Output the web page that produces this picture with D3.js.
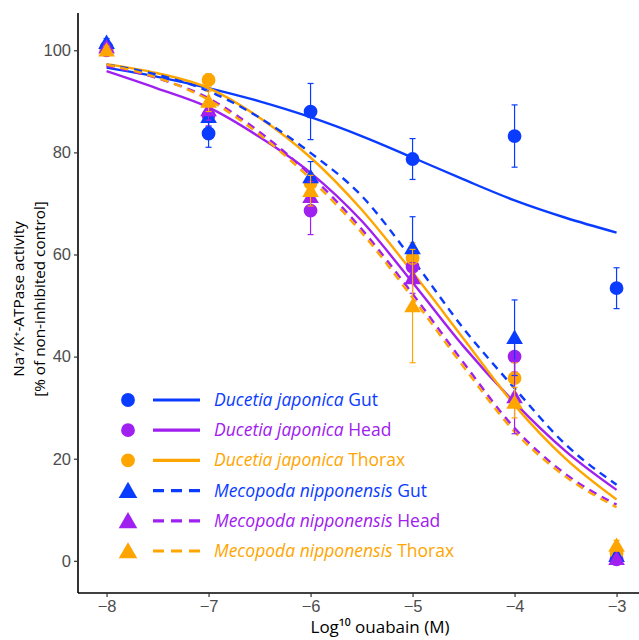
<!DOCTYPE html>
<html>
<head>
<meta charset="utf-8">
<script src="https://cdn.jsdelivr.net/npm/d3@7"></script>
<style>
  body { margin: 0; background: #fff; }
  svg { display: block; }
</style>
</head>
<body>
<script>
// concentrations (log10 M)
var doses = [-8, -7, -6, -5, -4, -3];
// x positions for the fitted curves
var curveX = [-8, -7.5, -7, -6.5, -6, -5.5, -5, -4.5, -4, -3.5, -3];

// series names
var species = ["Ducetia japonica", "Ducetia japonica", "Ducetia japonica",
               "Mecopoda nipponensis", "Mecopoda nipponensis", "Mecopoda nipponensis"];
var tissues = ["Gut", "Head", "Thorax", "Gut", "Head", "Thorax"];

// measured means (% of control)
var djGut     = [100.5, 83.7, 88.0, 78.7, 83.2, 53.4];
var djHead    = [100.0, 87.2, 68.6, 57.6, 40.0, 0.3];
var djThorax  = [100.2, 94.2, 74.0, 59.3, 35.8, 1.5];
var mnGut     = [101.5, 87.0, 75.2, 61.3, 43.7, 1.0];
var mnHead    = [100.6, 88.3, 71.3, 55.4, 32.1, 0.4];
var mnThorax  = [100.0, 90.0, 72.5, 49.9, 31.0, 3.0];

// error (half bar length)
var djGutErr    = [0.8, 2.7, 5.5, 4.0, 6.1, 4.0];
var djHeadErr   = [0.8, 2.0, 4.7, 3.0, 3.0, 0.5];
var djThoraxErr = [0.8, 1.2, 2.0, 3.0, 3.0, 0.5];
var mnGutErr    = [0.8, 2.0, 3.0, 6.1, 7.4, 0.5];
var mnHeadErr   = [0.8, 2.0, 3.0, 3.0, 7.2, 0.5];
var mnThoraxErr = [0.8, 2.0, 3.0, 11.1, 3.0, 1.0];

// fitted curves at curveX
var djGutFit    = [96.6, 94.8, 92.6, 90.0, 86.9, 83.2, 79.0, 74.7, 70.6, 67.2, 64.3];
var djHeadFit   = [95.9, 92.5, 88.8, 83.0, 76.0, 66.6, 54.5, 42.0, 31.0, 21.5, 13.9];
var djThoraxFit = [97.3, 95.5, 92.6, 86.8, 79.0, 68.8, 56.5, 43.5, 30.5, 20.0, 12.0];
var mnGutFit    = [97.2, 95.2, 92.0, 86.8, 79.9, 71.5, 59.0, 45.5, 33.8, 22.8, 14.9];
var mnHeadFit   = [96.9, 94.5, 90.6, 84.0, 75.5, 65.0, 52.3, 38.8, 26.0, 17.0, 11.0];
var mnThoraxFit = [97.2, 94.6, 90.3, 83.5, 74.8, 64.3, 51.5, 38.0, 25.3, 16.5, 10.5];

var yTicks = [0, 20, 40, 60, 80, 100];

var colors = ["#0a3cff", "#a020f0", "#ffa500", "#0a3cff", "#a020f0", "#ffa500"];
var shapes = ["circle", "circle", "circle", "triangle", "triangle", "triangle"];
var dashed = [false, false, false, true, true, true];

var means = [djGut, djHead, djThorax, mnGut, mnHead, mnThorax];
var errs  = [djGutErr, djHeadErr, djThoraxErr, mnGutErr, mnHeadErr, mnThoraxErr];
var fits  = [djGutFit, djHeadFit, djThoraxFit, mnGutFit, mnHeadFit, mnThoraxFit];

var series = means.map(function(m, i) {
  return {
    species: species[i], tissue: tissues[i], color: colors[i],
    shape: shapes[i], dashed: dashed[i],
    points: doses.map(function(d, j) { return {x: d, y: m[j], e: errs[i][j]}; }),
    fit: curveX.map(function(d, j) { return {x: d, y: fits[i][j]}; })
  };
});

var W = 639, H = 640;
var mLeft = 78, mRight = 639, mTop = 13, mBottom = 593;

var x = d3.scaleLinear().domain([-8.28, -2.78]).range([mLeft, mRight]);
var y = d3.scaleLinear().domain([-6.3, 107.3]).range([mBottom, mTop]);

var svg = d3.select("body").append("svg")
    .attr("width", W)
    .attr("height", H);

// axes
var yAxis = svg.append("g")
    .attr("transform", "translate(" + mLeft + ",0)")
    .call(d3.axisLeft(y).tickValues(yTicks).tickSize(4).tickPadding(3));
var xAxis = svg.append("g")
    .attr("transform", "translate(0," + mBottom + ")")
    .call(d3.axisBottom(x).tickValues(doses).tickSize(4).tickPadding(3)
      .tickFormat(function(d) { return "\u2212" + Math.abs(d); }));

[xAxis, yAxis].forEach(function(a) {
  a.select(".domain").attr("stroke", "#000").attr("stroke-width", 1.6);
  a.selectAll(".tick line").attr("stroke", "#333").attr("stroke-width", 1.2);
  a.selectAll(".tick text")
    .attr("fill", "#4d4d4d")
    .style("font-family", "'Liberation Sans', Arial, sans-serif")
    .style("font-size", "16.5px");
});
// let the axis lines run the full panel
yAxis.select(".domain").attr("d", "M0," + mTop + "V" + mBottom);
xAxis.select(".domain").attr("d", "M" + mLeft + ",0H" + mRight);

// axis titles
var titleFont = "'Open Sans', 'Noto Sans', sans-serif";
svg.append("text")
    .attr("transform", "translate(24,299) rotate(-90)")
    .attr("text-anchor", "middle")
    .style("font-family", titleFont)
    .style("font-size", "15.3px")
    .text("Na\u207A/K\u207A-ATPase activity");
svg.append("text")
    .attr("transform", "translate(45,299) rotate(-90)")
    .attr("text-anchor", "middle")
    .style("font-family", titleFont)
    .style("font-size", "15.3px")
    .text("[% of non-inhibited control]");
svg.append("text")
    .attr("x", 380)
    .attr("y", 633)
    .attr("text-anchor", "middle")
    .style("font-family", titleFont)
    .style("font-size", "17px")
    .text("Log\u00B9\u2070 ouabain (M)");

// fitted curves
var line = d3.line()
    .x(function(d) { return x(d.x); })
    .y(function(d) { return y(d.y); })
    .curve(d3.curveMonotoneX);

svg.append("g").selectAll("path")
  .data(series)
  .enter().append("path")
    .attr("d", function(d) { return line(d.fit); })
    .attr("fill", "none")
    .attr("stroke", function(d) { return d.color; })
    .attr("stroke-width", 2.4)
    .attr("stroke-dasharray", function(d) { return d.dashed ? "8,6" : null; });

// error bars + points
var sym = {
  circle: d3.symbol().type(d3.symbolCircle).size(150),
  triangle: d3.symbol().type(d3.symbolTriangle).size(120)
};

var grp = svg.append("g").selectAll("g")
  .data(series)
  .enter().append("g");

grp.each(function(s) {
  var g = d3.select(this);
  var bars = g.selectAll("g.err")
    .data(s.points)
    .enter().append("g")
      .attr("class", "err")
      .attr("stroke", s.color)
      .attr("stroke-width", 1.2);
  bars.append("line")
      .attr("x1", function(d) { return x(d.x); })
      .attr("x2", function(d) { return x(d.x); })
      .attr("y1", function(d) { return y(d.y - d.e); })
      .attr("y2", function(d) { return y(d.y + d.e); });
  bars.append("line")
      .attr("x1", function(d) { return x(d.x) - 3; })
      .attr("x2", function(d) { return x(d.x) + 3; })
      .attr("y1", function(d) { return y(d.y - d.e); })
      .attr("y2", function(d) { return y(d.y - d.e); });
  bars.append("line")
      .attr("x1", function(d) { return x(d.x) - 3; })
      .attr("x2", function(d) { return x(d.x) + 3; })
      .attr("y1", function(d) { return y(d.y + d.e); })
      .attr("y2", function(d) { return y(d.y + d.e); });
  g.selectAll("path.pt")
    .data(s.points)
    .enter().append("path")
      .attr("class", "pt")
      .attr("d", sym[s.shape])
      .attr("transform", function(d) { return "translate(" + x(d.x) + "," + (y(d.y) + (s.shape == "triangle" ? 1.5 : 0)) + ")"; })
      .attr("fill", s.color);
});

// legend
var legend = svg.append("g").selectAll("g")
  .data(series)
  .enter().append("g")
    .attr("transform", function(d, i) { return "translate(0," + (400 + i * 30.2) + ")"; });

legend.append("path")
    .attr("d", function(d) { return d.shape == "circle" ? sym.circle() : d3.symbol().type(d3.symbolTriangle).size(150)(); })
    .attr("transform", function(d) { return "translate(128," + (d.shape == "triangle" ? 2 : 0) + ")"; })
    .attr("fill", function(d) { return d.color; });

legend.append("line")
    .attr("x1", 153).attr("x2", 200)
    .attr("y1", 0).attr("y2", 0)
    .attr("stroke", function(d) { return d.color; })
    .attr("stroke-width", 3.2)
    .attr("stroke-dasharray", function(d) { return d.dashed ? "11,7" : null; });

var lt = legend.append("text")
    .attr("x", 214)
    .attr("y", 6)
    .attr("fill", function(d) { return d.color; })
    .style("font-family", titleFont)
    .style("font-size", "17.5px");
lt.append("tspan")
    .style("font-style", "italic")
    .text(function(d) { return d.species; });
lt.append("tspan")
    .text(function(d) { return " " + d.tissue; });
</script>
</body>
</html>
